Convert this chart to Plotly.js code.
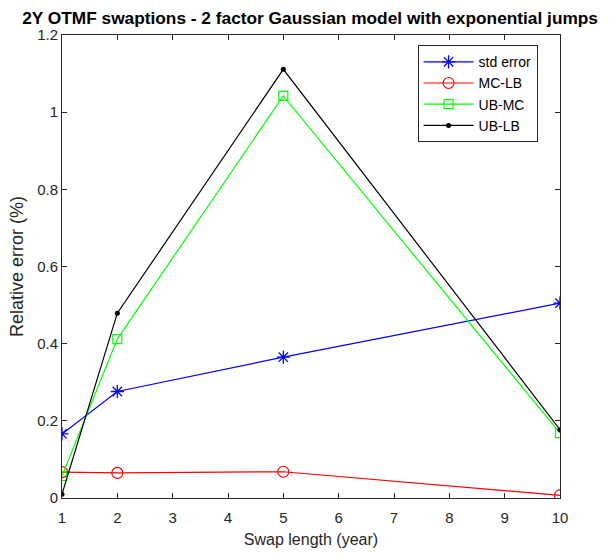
<!DOCTYPE html>
<html><head><meta charset="utf-8">
<script src="https://cdn.plot.ly/plotly-3.0.1.min.js"></script>
<style>body{margin:0;padding:0;background:#fff}#c{width:614px;height:557px}</style>
</head><body><div id="c"></div>
<script>
const swapLength = [1, 2, 5, 10];
const stdError = [0.166, 0.276, 0.365, 0.505];
const mcLb = [0.067, 0.065, 0.068, 0.007];
const ubMc = [0.057, 0.412, 1.042, 0.168];
const ubLb = [0.010, 0.479, 1.111, 0.177];
const xTicks = [1,2,3,4,5,6,7,8,9,10];
const yTicks = [0,0.2,0.4,0.6,0.8,1,1.2];

const font = {family: 'Liberation Sans, Arial, sans-serif', color: '#262626'};
const traces = [
  {x: swapLength, y: stdError, name: 'std error', mode: 'lines+markers',
   line: {color: '#0000ff', width: 1.2}, marker: {symbol: 'asterisk-open', size: 11, color: '#0000ff', line: {width: 1.3, color: '#0000ff'}}},
  {x: swapLength, y: mcLb, name: 'MC-LB', mode: 'lines+markers',
   line: {color: '#ff0000', width: 1.2}, marker: {symbol: 'circle-open', size: 11, color: '#ff0000', line: {width: 1.2, color: '#ff0000'}}},
  {x: swapLength, y: ubMc, name: 'UB-MC', mode: 'lines+markers',
   line: {color: '#00ff00', width: 1.2}, marker: {symbol: 'square-open', size: 9, color: '#00ff00', line: {width: 1.2, color: '#00ff00'}}},
  {x: swapLength, y: ubLb, name: 'UB-LB', mode: 'lines+markers',
   line: {color: '#000000', width: 1.2}, marker: {symbol: 'circle', size: 5, color: '#000000'}}
];
const layout = {
  width: 614, height: 557,
  margin: {l: 62, r: 54, t: 35, b: 59},
  paper_bgcolor: '#fff', plot_bgcolor: '#fff',
  font: font,
  title: {text: '<b>2Y OTMF swaptions - 2 factor Gaussian model with exponential jumps</b>',
    x: 0.505, xanchor: 'center', y: 0.968, yanchor: 'middle',
    font: {family: 'Liberation Sans, Arial, sans-serif', size: 17.3, color: '#000'}},
  xaxis: {range: [1, 10], tickvals: xTicks, ticktext: xTicks.map(String),
    ticks: 'inside', ticklen: 5, tickcolor: '#262626', showgrid: false, zeroline: false,
    showline: true, linecolor: '#262626', linewidth: 1, mirror: 'ticks',
    ticklabelstandoff: 6,
    tickfont: {size: 15, color: '#262626'},
    title: {text: 'Swap length (year)', font: {size: 16, color: '#262626'}, standoff: 8}},
  yaxis: {range: [0, 1.2], tickvals: yTicks, ticktext: yTicks.map(String),
    ticks: 'inside', ticklen: 5, tickcolor: '#262626', showgrid: false, zeroline: false,
    showline: true, linecolor: '#262626', linewidth: 1, mirror: 'ticks',
    tickfont: {size: 15, color: '#262626'},
    title: {text: 'Relative error (%)', font: {size: 18, color: '#262626'}, standoff: 8}},
  legend: {x: 0.714, y: 0.978, xanchor: 'left', yanchor: 'top',
    bgcolor: '#fff', bordercolor: '#262626', borderwidth: 1,
    font: {size: 14, color: '#000'}, tracegroupgap: 0, itemwidth: 50,
    entrywidth: 132, entrywidthmode: 'pixels'},
  showlegend: true
};
Plotly.newPlot('c', traces, layout, {displayModeBar: false, staticPlot: true});
</script></body></html>
